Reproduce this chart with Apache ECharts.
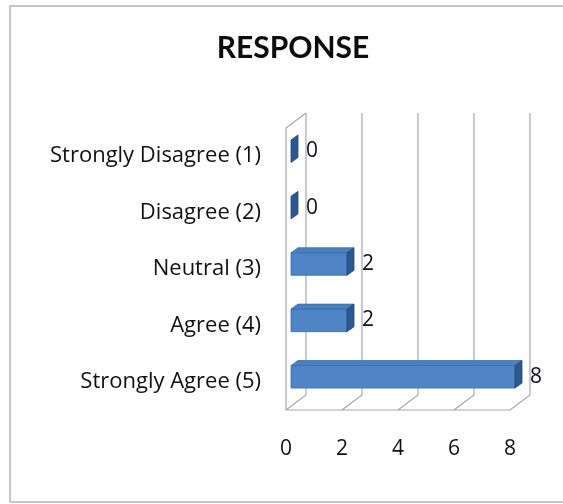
<!DOCTYPE html>
<html>
<head>
<meta charset="utf-8">
<script src="https://cdn.jsdelivr.net/npm/echarts@6/dist/echarts.min.js"></script>
<style>
    html, body { margin: 0; padding: 0; background: #fff; }
    #chart { width: 563px; height: 504px; }
</style>
</head>
<body>
<div id="chart"></div>
<script>
    // 数据
    var categories = ['Strongly Disagree (1)', 'Disagree (2)', 'Neutral (3)', 'Agree (4)', 'Strongly Agree (5)'];
    var responses = [0, 0, 2, 2, 8];
    var xTicks = [0, 2, 4, 6, 8];

    var FONT = 'Open Sans';
    var WALL = [20, -15];      // back wall offset
    var BAR_OFF = [5, -5];     // bar front face offset
    var BAR_DEPTH = [7, -5];   // bar thickness
    var LINE = '#aaa5b6';

    var myChart = echarts.init(document.getElementById('chart'));

    // 3D frame: left wall, floor, back wall grid
    function frameItem(params, api) {
        if (params.dataIndex !== 0) return;
        var cs = params.coordSys;
        var l = cs.x, t = cs.y, r = cs.x + cs.width, b = cs.y + cs.height;
        var dx = WALL[0], dy = WALL[1];
        var lines = [];
        xTicks.forEach(function (v) {
            var x = api.coord([v, 0])[0];
            lines.push([[x + dx, t + dy], [x + dx, b + dy]]);
            lines.push([[x, b], [x + dx, b + dy]]);
        });
        lines.push([[l, t], [l, b]]);
        lines.push([[l, t], [l + dx, t + dy]]);
        lines.push([[l, b], [r, b]]);
        return {
            type: 'group',
            children: lines.map(function (p) {
                return {
                    type: 'line',
                    shape: { x1: p[0][0], y1: p[0][1], x2: p[1][0], y2: p[1][1] },
                    style: { stroke: LINE, lineWidth: 1.2 }
                };
            })
        };
    }

    // 3D bar
    function barItem(params, api) {
        var v = api.value(0), c = api.value(1);
        var p0 = api.coord([0, c]);
        var p1 = api.coord([v, c]);
        var h = api.size([0, 1])[1] * 0.4;
        var x0 = p0[0] + BAR_OFF[0], x1 = p1[0] + BAR_OFF[0];
        var yt = p0[1] + BAR_OFF[1] - h / 2, yb = yt + h;
        var dx = BAR_DEPTH[0], dy = BAR_DEPTH[1];
        var children = [];
        if (x1 > x0) {
            children.push({
                type: 'rect',
                shape: { x: x0, y: yt, width: x1 - x0, height: h },
                style: { fill: '#4f85c6', stroke: '#3d6ead', lineWidth: 0.8 }
            });
            children.push({
                type: 'polygon',
                shape: { points: [[x0, yt], [x1, yt], [x1 + dx, yt + dy], [x0 + dx, yt + dy]] },
                style: { fill: '#4a7fc0', stroke: '#3d6ead', lineWidth: 0.8 }
            });
        }
        children.push({
            type: 'polygon',
            shape: { points: [[x1, yt], [x1 + dx, yt + dy], [x1 + dx, yb + dy], [x1, yb]] },
            style: { fill: '#2c5791', stroke: '#27497a', lineWidth: 0.8 }
        });
        children.push({
            type: 'text',
            style: {
                x: x1 + dx + 8, y: (yt + yb) / 2,
                text: String(v),
                fill: '#111', fontSize: 21, fontFamily: FONT,
                align: 'left', verticalAlign: 'middle'
            }
        });
        return { type: 'group', children: children };
    }

    var option = {
        backgroundColor: '#fff',
        title: {
            text: 'RESPONSE',
            left: 288,
            textAlign: 'center',
            top: 28,
            textStyle: { fontFamily: 'Lato', fontSize: 30, fontWeight: 'bold', color: '#0d0d0d' }
        },
        grid: { left: 286, right: 53, top: 128, bottom: 94 },
        xAxis: {
            type: 'value',
            min: 0, max: 8, interval: 2,
            splitLine: { show: false },
            axisLine: { show: false },
            axisTick: { show: false },
            axisLabel: { margin: 29, color: '#111', fontSize: 21, fontFamily: FONT }
        },
        yAxis: {
            type: 'category',
            inverse: true,
            data: categories,
            axisLine: { show: false },
            axisTick: { show: false },
            axisLabel: { margin: 25, color: '#111', fontSize: 22, fontFamily: FONT }
        },
        graphic: [{
            type: 'rect',
            shape: { x: 10, y: 6, width: 560, height: 496 },
            style: { fill: 'none', stroke: '#b4b4b4', lineWidth: 1.5 },
            silent: true
        }],
        series: [{
            type: 'custom',
            renderItem: frameItem,
            clip: false,
            silent: true,
            z: 1,
            data: [[0, 0]]
        }, {
            type: 'custom',
            renderItem: barItem,
            clip: false,
            z: 2,
            encode: { x: 0, y: 1 },
            data: responses.map(function (v, i) { return [v, i]; })
        }]
    };

    myChart.setOption(option);
</script>
</body>
</html>
